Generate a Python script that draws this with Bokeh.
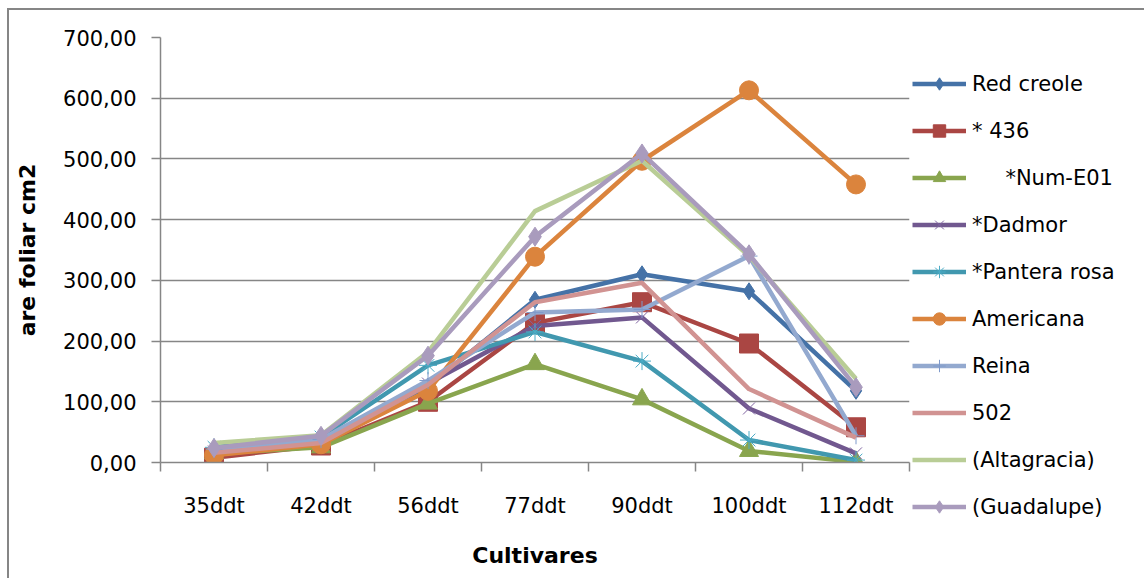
import numpy as np
from bokeh.plotting import figure
from bokeh.layouts import row
from bokeh.models import FixedTicker, Legend, LegendItem, Range1d
from bokeh.embed import file_html
from bokeh.resources import INLINE

# ---------------- data ----------------
categories = ["35ddt", "42ddt", "56ddt", "77ddt", "90ddt", "100ddt", "112ddt"]
red_creole = [20, 40, 125, 268, 310, 282, 118]
s436 = [8, 28, 100, 230, 264, 196, 58]
num_e01 = [15, 25, 97, 162, 104, 19, 1]
dadmor = [18, 35, 130, 225, 239, 89, 15]
pantera_rosa = [25, 42, 160, 215, 167, 37, 4]
americana = [12, 30, 118, 339, 497, 613, 458]
reina = [22, 38, 135, 247, 252, 340, 44]
s502 = [16, 32, 128, 264, 296, 121, 41]
altagracia = [32, 45, 182, 414, 497, 340, 138]
guadalupe = [24, 44, 176, 372, 509, 343, 124]
series_names = ["Red creole", "* 436", "\u00a0\u00a0\u00a0\u00a0\u00a0*Num-E01", "*Dadmor", "*Pantera rosa",
                "Americana", "Reina", "502", "(Altagracia)", "(Guadalupe)"]
y_ticks = [0, 100, 200, 300, 400, 500, 600, 700]
y_tick_labels = ["0,00", "100,00", "200,00", "300,00", "400,00", "500,00", "600,00", "700,00"]
y_title = "are foliar cm2"
x_title = "Cultivares"

series_values = [red_creole, s436, num_e01, dadmor, pantera_rosa,
                 americana, reina, s502, altagracia, guadalupe]

# styles: (line color, marker, marker size, marker fill, marker line color, marker line width)
styles = [
    ("#4572A7", "diamond", 17, "#4572A7", "#4572A7", 1),
    ("#AA4643", "square", 19, "#AA4643", "#AA4643", 1),
    ("#89A54E", "triangle", 19, "#89A54E", "#89A54E", 1),
    ("#71588F", "x", 17, None, "#8064A2", 1),
    ("#4198AF", "asterisk", 18, None, "#4BACC6", 1),
    ("#DB843D", "circle", 19, "#DB843D", "#DB843D", 1),
    ("#93A9CF", "cross", 17, None, "#7F9ACB", 1),
    ("#D19392", None, 0, None, None, 0),
    ("#B9CD96", None, 0, None, None, 0),
    ("#A99BBD", "diamond", 19, "#A99BBD", "#A99BBD", 1),
]

FONT = "DejaVu Sans"
GRID = "#868686"
LW = 4.5

H = 568
W_MAIN, W_LEG = 902, 233
n = len(categories)

p = figure(width=W_MAIN, height=H, output_backend="svg", toolbar_location=None,
           x_range=Range1d(0, n), y_range=Range1d(0, 700),
           min_border_left=151, min_border_right=2, min_border_top=27,
           min_border_bottom=116)
p.outline_line_color = None
p.background_fill_color = "white"
p.border_fill_color = "white"

xc = [i + 0.5 for i in range(n)]

for vals, st in zip(series_values, styles):
    lc, mk, ms, mf, mlc, mlw = st
    p.line(xc, vals, line_color=lc, line_width=LW, line_join="round")
    if mk is not None:
        p.scatter(xc, vals, marker=mk, size=ms,
                  fill_color=mf, line_color=mlc, line_width=mlw)

# axes
xa = p.xaxis[0]
xa.ticker = FixedTicker(ticks=xc, minor_ticks=list(range(n + 1)))
xa.major_label_overrides = {x: c for x, c in zip(xc, categories)}
xa.major_tick_out = 0
xa.major_tick_in = 0
xa.minor_tick_out = 9
xa.minor_tick_in = 0
xa.minor_tick_line_color = GRID
xa.minor_tick_line_width = 1.5
xa.axis_line_color = GRID
xa.axis_line_width = 1.5
xa.major_label_text_font = FONT
xa.major_label_text_font_size = "21px"
xa.major_label_text_color = "black"
xa.major_label_standoff = 22
xa.axis_label = x_title
xa.axis_label_text_font = FONT
xa.axis_label_text_font_style = "bold"
xa.axis_label_text_font_size = "22px"
xa.axis_label_text_color = "black"
xa.axis_label_standoff = 22

ya = p.yaxis[0]
ya.ticker = FixedTicker(ticks=y_ticks, minor_ticks=[])
ya.major_label_overrides = {t: l for t, l in zip(y_ticks, y_tick_labels)}
ya.major_tick_out = 9
ya.major_tick_in = 0
ya.major_tick_line_color = GRID
ya.major_tick_line_width = 1.5
ya.minor_tick_line_color = None
ya.axis_line_color = GRID
ya.axis_line_width = 1.5
ya.major_label_text_font = FONT
ya.major_label_text_font_size = "21px"
ya.major_label_text_color = "black"
ya.major_label_standoff = 15
ya.axis_label = y_title
ya.axis_label_text_font = FONT
ya.axis_label_text_font_style = "bold"
ya.axis_label_text_font_size = "22px"
ya.axis_label_text_color = "black"
ya.axis_label_standoff = 20

p.xgrid.grid_line_color = None
p.ygrid.grid_line_color = GRID
p.ygrid.grid_line_width = 1.5

# ---------------- legend panel (separate canvas so it is not clipped) ----------------
# its ranges lie outside the data, so only the legend samples are visible
pl = figure(width=W_LEG, height=H, output_backend="svg", toolbar_location=None,
            x_range=Range1d(-3, -2), y_range=Range1d(-3, -2),
            x_axis_type=None, y_axis_type=None,
            min_border_left=0, min_border_right=0, min_border_top=0, min_border_bottom=0)
pl.outline_line_color = None
pl.background_fill_color = "white"
pl.border_fill_color = "white"
pl.xgrid.visible = False
pl.ygrid.visible = False

leg_loc = (1, 56)
try:
    p.frame_align = False
    pl.frame_align = False
except Exception:
    leg_loc = (1, -60)

items = []
for name, vals, st in zip(series_names, series_values, styles):
    lc, mk, ms, mf, mlc, mlw = st
    rs = [pl.line(xc, vals, line_color=lc, line_width=LW)]
    if mk is not None:
        rs.append(pl.scatter(xc, vals, marker=mk, size=ms,
                             fill_color=mf, line_color=mlc, line_width=mlw))
    items.append(LegendItem(label=name, renderers=rs))

legend = Legend(items=items, location=leg_loc)
legend.padding = 0
legend.margin = 0
legend.border_line_color = None
legend.background_fill_alpha = 0
legend.glyph_width = 54
legend.glyph_height = 31
legend.label_height = 31
legend.label_standoff = 6
legend.spacing = 16
legend.label_text_font = FONT
legend.label_text_font_size = "21px"
legend.label_text_color = "black"
pl.add_layout(legend)

layout = row(p, pl, spacing=0)
layout.styles = {"margin-left": "7px", "margin-top": "8px",
                 "border-left": "2px solid #868686", "border-top": "2px solid #868686"}

open("out.html", "w").write(file_html(layout, INLINE))
